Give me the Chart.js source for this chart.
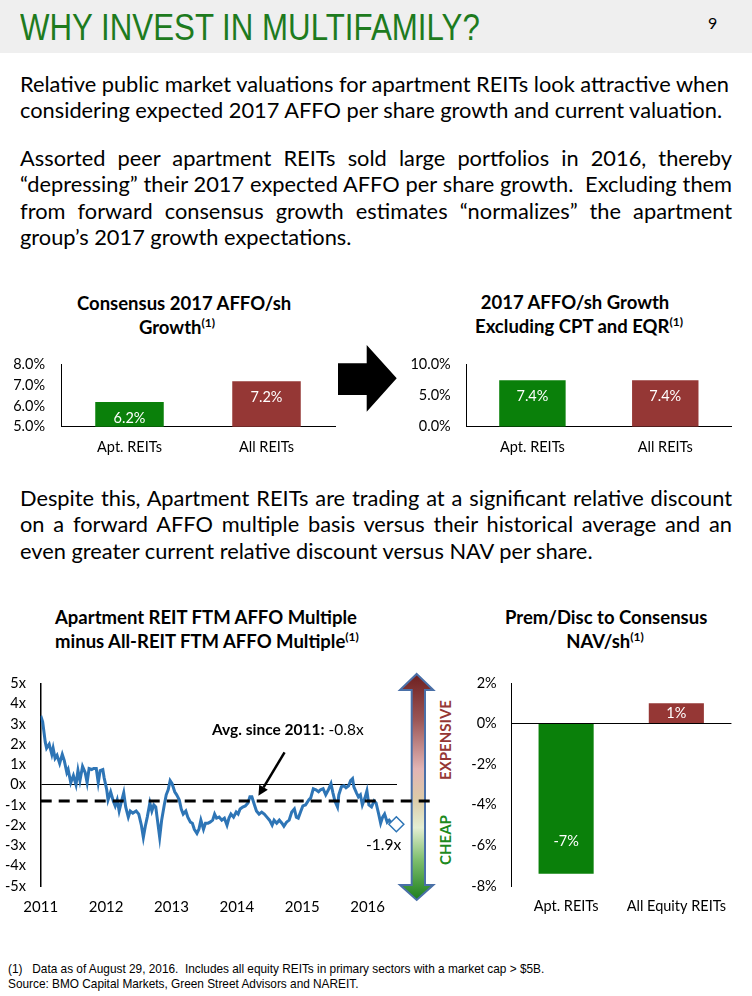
<!DOCTYPE html>
<html>
<head>
<meta charset="utf-8">
<script src="https://cdn.jsdelivr.net/npm/chart.js@4.4.0/dist/chart.umd.min.js"></script>
<style>
  html,body{margin:0;padding:0;}
  body{width:752px;height:996px;position:relative;background:#fff;overflow:hidden;font-family:Lato,"Noto Sans",sans-serif;color:#000;}
  .abs{position:absolute;}
  .header{left:0;top:0;width:752px;height:53px;background:#efefef;}
  .htitle{left:20px;top:6px;font-family:"Liberation Sans",Arial,sans-serif;font-size:37px;color:#1e7b1e;white-space:nowrap;line-height:44px;transform:scaleX(0.845);transform-origin:0 0;}
  .pnum{left:708px;top:13px;font-size:16px;line-height:20px;}
  .para{left:20px;width:712px;font-size:22px;line-height:26.4px;}
  .para .ln{white-space:nowrap;height:26.4px;}
  .para .j{text-align:justify;text-align-last:justify;}
  .ctitle{font-weight:bold;font-size:18.5px;line-height:24px;text-align:center;white-space:nowrap;}
  sup{font-size:12px;line-height:0;vertical-align:7px;}
  canvas{position:absolute;}
  .foot{left:8px;font-family:"Liberation Sans",Arial,sans-serif;font-size:13px;line-height:15px;white-space:pre;transform:scaleX(0.91);transform-origin:0 0;}
  .vlab{font-weight:bold;font-size:15px;white-space:nowrap;transform:translate(-50%,-50%) rotate(-90deg);}
</style>
</head>
<body>
<div class="abs header"></div>
<div class="abs htitle">WHY INVEST IN MULTIFAMILY?</div>
<div class="abs pnum">9</div>

<div class="abs para" style="top:71px;">
  <div class="ln"><span>Relative public market valuations for apartment REITs look attractive when</span></div>
  <div class="ln"><span>considering expected 2017 AFFO per share growth and current valuation.</span></div>
</div>
<div class="abs para" style="top:145px;">
  <div class="ln j"><span>Assorted peer apartment REITs sold large portfolios in 2016, thereby</span></div>
  <div class="ln j"><span>“depressing” their 2017 expected AFFO per share growth.&nbsp; Excluding them</span></div>
  <div class="ln j"><span>from forward consensus growth estimates “normalizes” the apartment</span></div>
  <div class="ln"><span>group’s 2017 growth expectations.</span></div>
</div>
<div class="abs para" style="top:485px;">
  <div class="ln j"><span>Despite this, Apartment REITs are trading at a significant relative discount</span></div>
  <div class="ln j"><span>on a forward AFFO multiple basis versus their historical average and an</span></div>
  <div class="ln"><span>even greater current relative discount versus NAV per share.</span></div>
</div>

<!-- chart titles -->
<div class="abs ctitle" style="left:77px;width:200px;top:291px;">Consensus 2017 AFFO/sh<br>Growth<sup>(1)</sup></div>
<div class="abs ctitle" style="left:475px;width:200px;top:290px;">2017 AFFO/sh Growth<br>Excluding CPT and EQR<sup>(1)</sup></div>
<div class="abs ctitle" style="left:55px;width:300px;top:605px;">Apartment REIT FTM AFFO Multiple<br>minus All-REIT FTM AFFO Multiple<sup>(1)</sup></div>
<div class="abs ctitle" style="left:505px;width:200px;top:605px;">Prem/Disc to Consensus<br>NAV/sh<sup>(1)</sup></div>

<!-- block arrow between top charts -->
<svg class="abs" style="left:330px;top:340px;" width="75" height="80">
  <polygon points="8,23.3 36.7,23.3 36.7,5 66.7,38.3 36.7,71.7 36.7,55 8,55" fill="#000"/>
</svg>

<!-- gradient double arrow -->
<svg class="abs" style="left:390px;top:665px;" width="55" height="245">
  <defs>
    <linearGradient id="g" x1="0" y1="0" x2="0" y2="1">
      <stop offset="0" stop-color="#6e1f1f"/>
      <stop offset="0.2" stop-color="#9a5555"/>
      <stop offset="0.42" stop-color="#e2b4b4"/>
      <stop offset="0.55" stop-color="#dccaa8"/>
      <stop offset="0.68" stop-color="#e4eed2"/>
      <stop offset="0.82" stop-color="#7fbf6f"/>
      <stop offset="1" stop-color="#1d7f1d"/>
    </linearGradient>
  </defs>
  <polygon points="26.7,9 43.3,25 35,25 35,220 43.3,220 26.7,235 10,220 21.7,220 21.7,25 10,25" fill="url(#g)" stroke="#4a70a8" stroke-width="2" stroke-linejoin="miter"/>
</svg>
<div class="abs vlab" style="left:445px;top:740px;color:#953735;">EXPENSIVE</div>
<div class="abs vlab" style="left:445px;top:840px;color:#1e8a1e;">CHEAP</div>

<canvas id="cA" width="340" height="120" style="left:0;top:340px;"></canvas>
<canvas id="cB" width="360" height="120" style="left:380px;top:340px;"></canvas>
<canvas id="cL" width="440" height="260" style="left:0;top:660px;"></canvas>
<canvas id="cN" width="360" height="260" style="left:380px;top:660px;"></canvas>

<div class="abs" style="left:212px;top:720px;font-size:15.5px;white-space:nowrap;"><b>Avg. since 2011:</b> -0.8x</div>
<div class="abs" style="left:366px;top:835px;font-size:15.5px;white-space:nowrap;">-1.9x</div>

<div class="abs foot" style="top:961px;">(1)   Data as of August 29, 2016.  Includes all equity REITs in primary sectors with a market cap &gt; $5B.</div>
<div class="abs foot" style="top:976px;">Source: BMO Capital Markets, Green Street Advisors and NAREIT.</div>

<script>
// ---------- DATA ----------
const growthCategories = ['Apt. REITs', 'All REITs'];
const consensusGrowth = [6.2, 7.2];
const growthExCptEqr = [7.4, 7.4];
const growthTicksA = [5, 6, 7, 8];
const growthTicksB = [0, 5, 10];

const navCategories = ['Apt. REITs', 'All Equity REITs'];
const navPremDisc = [-7.4, 1.0];
const navTicks = [-8, -6, -4, -2, 0, 2];

const yearTicks = [2011, 2012, 2013, 2014, 2015, 2016];
const multipleTicks = [-5, -4, -3, -2, -1, 0, 1, 2, 3, 4, 5];
const avgMultiple = -0.8;
const avgSpan = [2011, 2017];
const dates = [2011.00,2011.03,2011.07,2011.09,2011.13,2011.17,2011.19,2011.22,2011.25,2011.29,2011.33,2011.36,2011.40,2011.42,2011.46,2011.50,2011.54,2011.57,2011.60,2011.64,2011.68,2011.71,2011.74,2011.78,2011.81,2011.85,2011.88,2011.91,2011.95,2011.97,
2012.01,2012.03,2012.07,2012.11,2012.14,2012.17,2012.20,2012.23,2012.27,2012.30,2012.34,2012.37,2012.41,2012.46,2012.50,2012.54,2012.57,2012.60,2012.63,2012.67,2012.70,2012.73,2012.76,2012.78,2012.82,2012.85,2012.89,2012.92,2012.95,2012.98,
2013.01,2013.05,2013.08,2013.12,2013.15,2013.18,2013.22,2013.25,2013.29,2013.32,2013.35,2013.39,2013.42,2013.45,2013.49,2013.52,2013.56,2013.59,2013.63,2013.66,2013.69,2013.73,2013.77,2013.81,2013.85,2013.88,2013.91,2013.95,2013.99,
2014.02,2014.05,2014.09,2014.13,2014.17,2014.20,2014.23,2014.27,2014.30,2014.34,2014.38,2014.42,2014.46,2014.50,2014.54,2014.57,2014.61,2014.65,2014.69,2014.72,2014.76,2014.80,2014.84,2014.88,2014.91,2014.94,2014.98,
2015.01,2015.05,2015.10,2015.13,2015.17,2015.21,2015.25,2015.28,2015.32,2015.36,2015.40,2015.44,2015.47,2015.50,2015.54,2015.56,2015.60,2015.64,2015.67,2015.71,2015.74,2015.77,2015.79,2015.83,2015.86,2015.89,2015.92,2015.96,2015.99,
2016.02,2016.06,2016.10,2016.13,2016.17,2016.20,2016.23,2016.26,2016.30,2016.33,2016.37,2016.44];
const multiples = [3.4,3.1,2.1,1.8,2.0,1.5,1.8,1.3,1.45,1.05,1.5,1.2,0.6,0.75,0.1,0.45,0.0,0.7,0.2,0.9,0.6,0.1,0.8,0.75,0.8,0.8,0.1,0.7,0.75,0.35,
-0.25,-0.75,-0.35,-0.8,-1.05,-0.75,-1.3,-0.9,-0.4,-1.1,-1.6,-1.3,-1.4,-1.3,-1.45,-2.0,-2.6,-2.05,-1.6,-0.9,-1.3,-1.0,-1.1,-1.6,-2.6,-1.75,-1.0,-0.5,-0.25,0.2,
0.05,-0.35,-0.5,-0.75,-1.2,-1.45,-1.3,-1.6,-1.85,-1.9,-2.2,-2.4,-2.2,-1.75,-2.2,-1.9,-1.9,-1.85,-1.75,-1.45,-1.65,-1.6,-1.75,-1.65,-2.0,-1.65,-1.45,-1.6,-1.35,
-1.45,-1.2,-1.1,-1.05,-0.9,-0.6,-0.6,-1.0,-1.3,-1.45,-1.35,-1.45,-1.6,-1.75,-2.0,-1.75,-1.9,-1.75,-1.9,-2.05,-1.85,-1.75,-1.35,-1.2,-1.6,-1.65,-1.3,
-1.05,-1.0,-0.75,-0.65,-0.2,-0.25,-0.35,-0.25,-0.2,-0.5,-0.25,0.05,-0.4,-0.8,-1.1,-0.5,-0.1,-0.05,-0.15,-0.05,0.2,0.3,-0.1,-0.4,-0.6,-0.5,-1.0,-0.65,-0.3,
-1.0,-1.1,-0.8,-0.9,-1.45,-1.9,-1.6,-1.45,-1.85,-1.75,-1.9,-1.95];

// ---------- STYLE ----------
const GREEN = '#0a800a';
const RED = '#953735';
const BLUE = '#2e75b6';
const FONT = 'Lato, "Noto Sans", sans-serif';
const TICK_SIZE = 14.5;

const barLabels = {
  id: 'barLabels',
  afterDatasetsDraw(chart, args, opts) {
    if (!opts || !opts.format) return;
    const ctx = chart.ctx;
    const meta = chart.getDatasetMeta(0);
    const ds = chart.data.datasets[0];
    ctx.save();
    ctx.fillStyle = '#fff';
    ctx.font = '14.5px ' + FONT;
    ctx.textAlign = 'center';
    ctx.textBaseline = 'middle';
    meta.data.forEach((bar, i) => {
      const v = ds.data[i];
      const p = bar.getProps(['x', 'y', 'base'], true);
      const len = Math.abs(p.base - p.y);
      let ly;
      if (len < 2 * opts.offset) ly = (p.y + p.base) / 2;
      else ly = v >= 0 ? p.y + opts.offset : p.y - opts.offset;
      ctx.fillText(opts.format(v), p.x, ly);
    });
    ctx.restore();
  }
};

function fixedAxis(w, h) {
  return function (scale) {
    if (w != null) scale.width = w;
    if (h != null) scale.height = h;
  };
}

function barChart(id, cats, vals, ticks, fmtTick, opt) {
  return new Chart(document.getElementById(id), {
    type: 'bar',
    data: {
      labels: cats,
      datasets: [{
        data: vals,
        backgroundColor: [GREEN, RED],
        barPercentage: 0.5,
        categoryPercentage: 1.0
      }]
    },
    plugins: [barLabels],
    options: {
      responsive: false,
      animation: false,
      layout: { padding: opt.padding },
      plugins: {
        legend: { display: false },
        tooltip: { enabled: false },
        barLabels: { offset: opt.labelOffset, format: opt.labelFmt }
      },
      scales: {
        x: {
          grid: { display: false, drawTicks: false },
          border: { display: opt.xBorder, color: '#000', width: 1 },
          ticks: { color: '#000', font: { family: FONT, size: TICK_SIZE }, padding: opt.xPad, autoSkip: false, maxRotation: 0 },
          afterFit: fixedAxis(null, opt.xH)
        },
        y: {
          min: ticks[0], max: ticks[ticks.length - 1],
          afterBuildTicks: s => { s.ticks = ticks.map(v => ({ value: v })); },
          grid: {
            drawTicks: false,
            display: opt.zeroLine,
            color: c => (c.tick && c.tick.value === 0) ? '#000' : 'rgba(0,0,0,0)',
            lineWidth: 1
          },
          border: { display: true, color: '#000', width: 1 },
          ticks: { color: '#000', font: { family: FONT, size: TICK_SIZE }, padding: opt.yPad, callback: fmtTick, autoSkip: false },
          afterFit: fixedAxis(opt.yW, null)
        }
      }
    }
  });
}

function fitParagraphs() {
  // shrink body text uniformly if any line is wider than the text column
  const paras = document.querySelectorAll('.para');
  let worst = 1;
  paras.forEach(p => {
    p.querySelectorAll('.ln span').forEach(s => {
      const r = 712 / s.getBoundingClientRect().width;
      if (r < worst) worst = r;
    });
  });
  if (worst < 1) {
    const fs = Math.floor(22 * worst * 10) / 10;
    paras.forEach(p => { p.style.fontSize = fs + 'px'; });
  }
}

function build() {
  fitParagraphs();
  barChart('cA', growthCategories, consensusGrowth, growthTicksA, v => v.toFixed(1) + '%', {
    padding: { top: 17.3, right: 5, left: 0, bottom: 0 }, yW: 61, xH: 33.3, yPad: 16, xPad: 12,
    labelOffset: 16, labelFmt: v => v.toFixed(1) + '%', xBorder: true, zeroLine: false
  });
  barChart('cB', growthCategories, growthExCptEqr, growthTicksB, v => v.toFixed(1) + '%', {
    padding: { top: 18.3, right: 8.3, left: 0, bottom: 0 }, yW: 86, xH: 33.3, yPad: 15.3, xPad: 12,
    labelOffset: 16.5, labelFmt: v => v.toFixed(1) + '%', xBorder: true, zeroLine: false
  });
  barChart('cN', navCategories, navPremDisc, navTicks, v => v + '%', {
    padding: { top: 14, right: 8.3, left: 0, bottom: 0 }, yW: 131, xH: 34, yPad: 14.3, xPad: 12,
    labelOffset: 32, labelFmt: v => Math.round(v) + '%', xBorder: false, zeroLine: true
  });

  const pointerArrow = {
    id: 'pointerArrow',
    afterDatasetsDraw(chart) {
      const xs = chart.scales.x, ys = chart.scales.y;
      const tx = xs.getPixelForValue(2014.73), ty = ys.getPixelForValue(1.6);
      const hx = xs.getPixelForValue(2014.33), hy = ys.getPixelForValue(-0.55);
      const ctx = chart.ctx;
      ctx.save();
      ctx.strokeStyle = '#000'; ctx.fillStyle = '#000'; ctx.lineWidth = 2.5;
      const ang = Math.atan2(hy - ty, hx - tx);
      const hl = 10;
      const bx = hx - hl * Math.cos(ang), by = hy - hl * Math.sin(ang);
      ctx.beginPath(); ctx.moveTo(tx, ty); ctx.lineTo(bx, by); ctx.stroke();
      ctx.beginPath();
      ctx.moveTo(hx, hy);
      ctx.lineTo(bx + 5 * Math.sin(ang), by - 5 * Math.cos(ang));
      ctx.lineTo(bx - 5 * Math.sin(ang), by + 5 * Math.cos(ang));
      ctx.closePath(); ctx.fill();
      ctx.restore();
    }
  };

  new Chart(document.getElementById('cL'), {
    type: 'line',
    data: {
      datasets: [
        {
          data: dates.map((d, i) => ({ x: d, y: multiples[i] })),
          borderColor: BLUE, borderWidth: 3, pointRadius: 0, tension: 0, order: 2
        },
        {
          data: avgSpan.map(d => ({ x: d, y: avgMultiple })),
          borderColor: '#000', borderWidth: 3, borderDash: [11, 7], pointRadius: 0, clip: false, order: 1
        },
        {
          data: [{ x: dates[dates.length - 1], y: multiples[multiples.length - 1] }],
          showLine: false, pointStyle: 'rectRot', pointRadius: 7.5,
          pointBackgroundColor: '#fff', pointBorderColor: BLUE, pointBorderWidth: 1.5, clip: false, order: 0
        }
      ]
    },
    plugins: [pointerArrow],
    options: {
      responsive: false,
      animation: false,
      layout: { padding: { top: 12.7, right: 43, left: 0, bottom: 0 } },
      plugins: { legend: { display: false }, tooltip: { enabled: false } },
      scales: {
        x: {
          type: 'linear', min: 2011, max: 2016.45,
          afterBuildTicks: s => { s.ticks = yearTicks.map(v => ({ value: v })); },
          grid: { display: false, drawTicks: false },
          border: { display: false },
          ticks: { color: '#000', font: { family: FONT, size: 15 }, padding: 12, callback: v => String(v), autoSkip: false, maxRotation: 0 },
          afterFit: fixedAxis(null, 34)
        },
        y: {
          min: -5, max: 5,
          afterBuildTicks: s => { s.ticks = multipleTicks.map(v => ({ value: v })); },
          grid: {
            drawTicks: false,
            color: c => (c.tick && c.tick.value === 0) ? '#000' : 'rgba(0,0,0,0)',
            lineWidth: 1
          },
          border: { display: true, color: '#000', width: 1.5 },
          ticks: { color: '#000', font: { family: FONT, size: TICK_SIZE }, padding: 14.7, callback: v => v + 'x', autoSkip: false },
          afterFit: fixedAxis(40.7, null)
        }
      }
    }
  });
}

if (document.fonts && document.fonts.load) {
  Promise.all([document.fonts.load('22px Lato'), document.fonts.load('bold 14px Lato')]).then(build, build);
} else build();
</script>
</body>
</html>
